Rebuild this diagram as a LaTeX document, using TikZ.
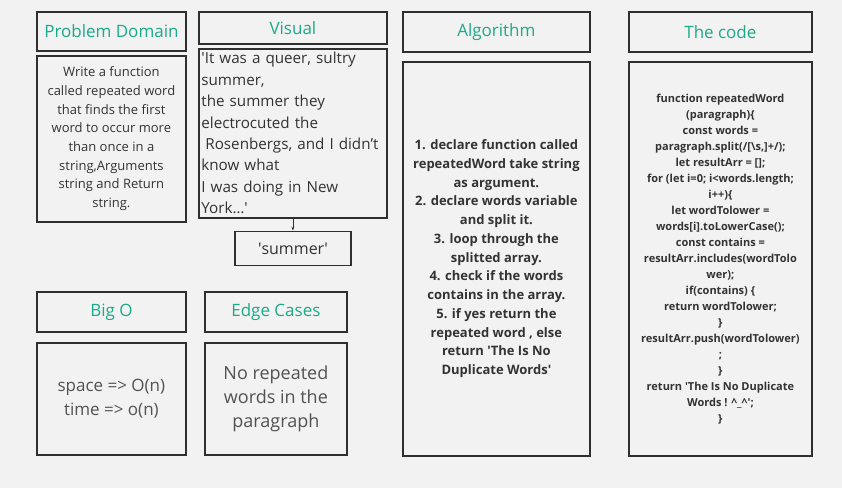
\documentclass[tikz,border=0pt]{standalone}
\usepackage{fontspec}
\setmainfont{Open Sans}
\usetikzlibrary{positioning, arrows.meta}
\definecolor{pagebg}{HTML}{F2F2F2}
\definecolor{framecol}{HTML}{2F2F2F}
\definecolor{headteal}{HTML}{1AAA8A}
\definecolor{bodytext}{HTML}{333333}
\newcommand{\sq}{\textquotesingle}

\begin{document}
\begin{tikzpicture}[
    x=1pt, y=-1pt,
    node distance=3pt,
    every node/.style={draw=framecol, line width=1.8pt, rectangle, fill=pagebg, align=center, inner sep=2pt},
    head/.style={text=headteal, font=\fontsize{17}{20}\selectfont, anchor=north west, minimum height=40pt},
    body/.style={text=bodytext, font=\fontsize{13}{18.7}\selectfont},
    >={Stealth[length=4pt, width=3pt]}
]
\fill[pagebg] (0,0) rectangle (842,488);
\useasboundingbox (0,0) rectangle (842,488);

\node[head, minimum width=149pt, minimum height=39pt] (domain) at (36,11) {Problem Domain};
\node[body, minimum width=149pt, minimum height=166pt, below=3pt of domain] (domaintext) {Write a function\\called repeated word\\that finds the first\\word to occur more\\than once in a\\string,Arguments\\string and Return\\string.};

\node[head, minimum width=188pt, minimum height=32pt] (visual) at (198,11) {Visual};
\node[body, minimum width=188pt, minimum height=169pt, text width=183pt, align=left, font=\fontsize{15.2}{21.4}\selectfont, below=3pt of visual] (visualtext) {\sq It was a queer, sultry\\summer,\\the summer they\\electrocuted the\\\hspace{4pt}Rosenbergs, and I didn’t\\know what\\I was doing in New\\York…\sq};
\node[body, minimum width=116pt, minimum height=34pt, font=\fontsize{16}{20}\selectfont, below=12pt of visualtext] (answer) {\sq summer\sq};

\node[head, minimum width=187pt] (algo) at (402,11) {Algorithm};
\node[body, minimum width=187pt, minimum height=394pt, font=\fontsize{13}{18.75}\selectfont\bfseries, below=8pt of algo] (algotext) {1. declare function called\\repeatedWord take string\\as argument.\\2. declare words variable\\and split it.\\3. loop through the\\splitted array.\\4. check if the words\\contains in the array.\\5. if yes return the\\repeated word , else\\return \sq The Is No\\Duplicate Words\sq};

\node[head, minimum width=183pt] (code) at (628,11) {The code};
\node[body, minimum width=183pt, minimum height=394pt, font=\fontsize{11}{16}\selectfont\bfseries, below=8pt of code] (codetext) {function repeatedWord\\(paragraph)\{\\const words =\\paragraph.split(/[\textbackslash s,]+/);\\let resultArr = [];\\for (let i=0; i<words.length;\\i++)\{\\let wordTolower =\\words[i].toLowerCase();\\const contains =\\resultArr.includes(wordTolo\\wer);\\if(contains) \{\\return wordTolower;\\\}\\resultArr.push(wordTolower)\\;\\\}\\return \sq The Is No Duplicate\\Words ! \textasciicircum\_\textasciicircum\sq;\\\}};

\node[head, minimum width=149pt] (bigo) at (36,291) {Big O};
\node[body, minimum width=149pt, minimum height=112pt, font=\fontsize{17}{24}\selectfont, text=bodytext!85, below=9pt of bigo] (bigotext) {space => O(n)\\time => o(n)};

\node[head, minimum width=142pt] (edge) at (204,291) {Edge Cases};
\node[body, minimum width=142pt, minimum height=112pt, font=\fontsize{18}{24}\selectfont, text=bodytext!85, below=9pt of edge] (edgetext) {No repeated\\words in the\\paragraph};

\draw[->, line width=0.8pt, framecol] (visualtext) -- (answer);
\end{tikzpicture}
\end{document}
